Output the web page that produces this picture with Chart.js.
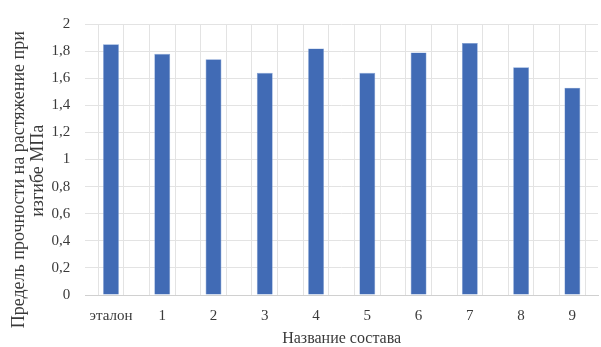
<!DOCTYPE html>
<html>
<head>
<meta charset="utf-8">
<script src="https://cdn.jsdelivr.net/npm/chart.js@4/dist/chart.umd.min.js"></script>
<style>
html,body{margin:0;padding:0;background:#fff;}
#wrap{width:601px;height:347px;position:relative;}
</style>
</head>
<body>
<div id="wrap"><canvas id="c" width="601" height="347"></canvas></div>
<script>
const categories = ["эталон", "1", "2", "3", "4", "5", "6", "7", "8", "9"];
const strengthValues = [1.85, 1.78, 1.74, 1.64, 1.82, 1.64, 1.79, 1.86, 1.68, 1.53];
const yTickValues = [0, 0.2, 0.4, 0.6, 0.8, 1, 1.2, 1.4, 1.6, 1.8, 2];
const xTitle = "Название состава";
const yTitle = ["Предель прочности на растяжение при" + "\u00a0".repeat(9), "изгибе МПа" + "\u00a0".repeat(5)];

const font = "'Liberation Serif', 'Times New Roman', serif";
const textColor = "#3a3a3a";
const gridColor = "#e3e3e3";

// vertical grid at every category centre and boundary (half-category steps)
const halfSteps = [];
for (let i = 0; i <= categories.length * 2; i++) halfSteps.push(i / 2);

new Chart(document.getElementById("c"), {
  type: "bar",
  data: {
    labels: categories,
    datasets: [{
      data: strengthValues,
      backgroundColor: "#416bb5",
      borderColor: "#7f9fd4",
      borderWidth: 0.6,
      barPercentage: 0.31,
      categoryPercentage: 1,
      xAxisID: "x",
      yAxisID: "y"
    }]
  },
  options: {
    responsive: false,
    animation: false,
    devicePixelRatio: 1,
    layout: { padding: { top: 24, right: 3, bottom: 0, left: 9 } },
    plugins: { legend: { display: false }, tooltip: { enabled: false } },
    scales: {
      x: {
        type: "category",
        offset: true,
        grid: { display: false },
        border: { display: true, color: "#d0d0d0" },
        ticks: { color: textColor, font: { family: font, size: 15, lineHeight: 1 }, padding: 6, maxRotation: 0 },
        title: { display: true, text: xTitle, color: textColor, font: { family: font, size: 16, lineHeight: 1 }, padding: { top: 1, bottom: 0 } },
        afterFit: (s) => { s.paddingLeft = 0; s.paddingRight = 0; }
      },
      x2: {
        type: "linear",
        position: "bottom",
        min: 0,
        max: categories.length,
        offset: false,
        afterBuildTicks: (s) => { s.ticks = halfSteps.map(v => ({ value: v })); },
        grid: { color: gridColor, lineWidth: 1, drawTicks: false },
        border: { display: false },
        ticks: { display: false },
        afterFit: (s) => { s.height = 0; s.paddingLeft = 0; s.paddingRight = 0; }
      },
      y: {
        min: 0,
        max: 2,
        afterBuildTicks: (s) => { s.ticks = yTickValues.map(v => ({ value: v })); },
        grid: { color: gridColor, lineWidth: 1, drawTicks: false },
        border: { display: false },
        ticks: {
          color: textColor,
          font: { family: font, size: 15 },
          padding: 15,
          callback: (v) => String(v).replace(".", ",")
        },
        title: { display: true, text: yTitle, color: textColor, font: { family: font, size: 18, lineHeight: 1.1 }, padding: { top: 0, bottom: -12 } },
        afterFit: (s) => { s.paddingTop = 0; s.paddingBottom = 0; }
      }
    }
  }
});
</script>
</body>
</html>
